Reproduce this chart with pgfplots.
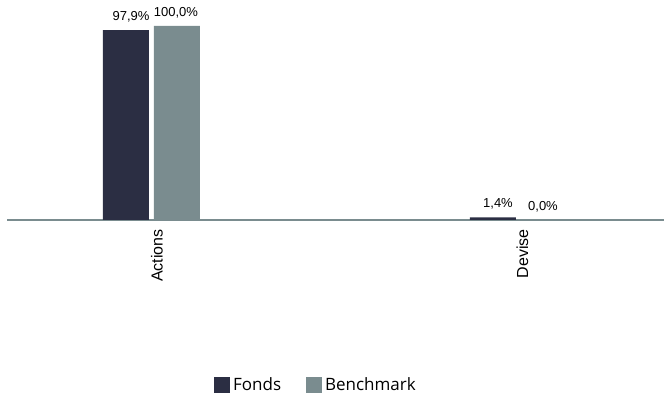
\documentclass[border=0pt]{standalone}
\usepackage{fontspec}
\setmainfont{Liberation Sans}
\newfontfamily\legendfont{Open Sans}
\usepackage{pgfplots}
\pgfplotsset{compat=1.18}
\definecolor{fonds}{HTML}{2B2E43}
\definecolor{bench}{HTML}{7A8C8F}

\begin{document}
\begin{tikzpicture}
\useasboundingbox (0,0) rectangle (664pt,401pt);
\begin{axis}[
  at={(7pt,181pt)}, anchor=south west,
  scale only axis, width=657pt, height=220pt,
  xmin=-0.3937, xmax=1.3965, ymin=0, ymax=113.4,
  axis x line*=bottom, axis y line=none,
  axis line style={-, draw=bench, line width=2pt},
  xtick={0.015,1.011}, xticklabels={Actions,Devise},
  xtick style={draw=none},
  xticklabel style={rotate=90, anchor=east, inner sep=0pt, font=\fontsize{16}{18}\selectfont},
  xticklabel shift=5pt,
  ytick=\empty,
  ybar, bar width=46pt,
  nodes near coords, point meta=explicit symbolic,
  nodes near coords style={font=\fontsize{13}{15}\selectfont, anchor=south, inner sep=0pt, text depth=0pt, yshift=9.5pt},
  clip=false,
  legend style={at={(axis description cs:0.471,-0.75)}, anchor=center, draw=none,
    font=\legendfont\fontsize{17}{19}\selectfont, legend columns=-1,
    /tikz/every even column/.append style={column sep=22pt},
    nodes={inner sep=3pt}},
  legend image code/.code={\fill[#1] (0pt,-8pt) rectangle (16pt,8pt);},
]
\addplot[fill=fonds, draw=none, bar shift=-25.5pt,
  nodes near coords style={xshift=5pt}] coordinates {(0,97.9) [97,9\%] (1,1.4) [1,4\%]};
\addplot[fill=bench, draw=none, bar shift=25.5pt,
  nodes near coords style={xshift=-1pt}] coordinates {(0,100) [100,0\%] (1,0) [0,0\%]};
\legend{Fonds,Benchmark}
\end{axis}
\end{tikzpicture}
\end{document}
